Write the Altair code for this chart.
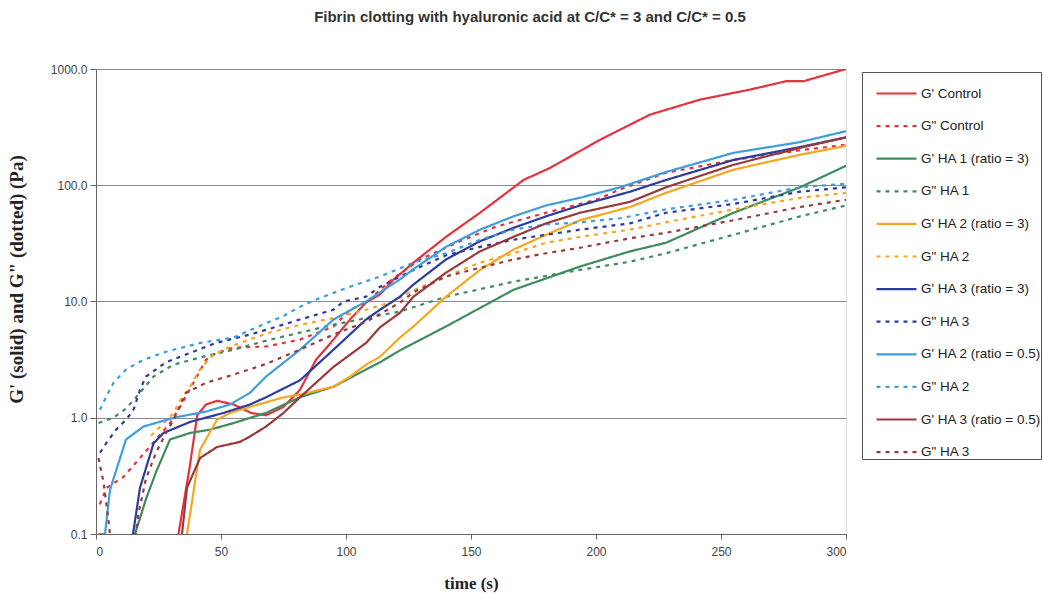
import altair as alt
import pandas as pd

title_text = "Fibrin clotting with hyaluronic acid at C/C* = 3 and C/C* = 0.5"

series_names = [
    "G' Control", 'G" Control',
    "G' HA 1 (ratio = 3)", 'G" HA 1',
    "G' HA 2 (ratio = 3)", 'G" HA 2',
    "G' HA 3 (ratio = 3)", 'G" HA 3',
    "G' HA 2 (ratio = 0.5)", 'G" HA 2 ',
    "G' HA 3 (ratio = 0.5)", 'G" HA 3 ',
]
series_colors = ["#E5323C", "#E5323C", "#3E8C5E", "#3E8C5E", "#F6A722", "#F6A722",
                 "#2C3C9E", "#2C3C9E", "#3D9EDD", "#3D9EDD", "#983A3C", "#983A3C"]
series_dash = [[1, 0], [4, 5]] * 6

# G' Control
t_g1 = [30, 33, 37.5, 40.5, 44, 48.5, 55, 62, 68, 75, 81.6, 88, 95, 101.6, 108, 113.6, 119, 127, 140, 153.6, 171, 181.6, 201.6, 221.6, 241.6, 261.6, 276, 283, 300]
v_g1 = [0.02, 0.1, 0.38, 1.05, 1.3, 1.4, 1.3, 1.1, 1.05, 1.24, 1.74, 3.15, 4.7, 7.0, 9.8, 11.5, 15.4, 21.6, 36, 58, 111, 141, 246, 405, 545, 665, 785, 785, 1000]
# G" Control
t_g2 = [1.5, 4.3, 11, 17.6, 24, 29.6, 33.6, 39, 44, 48, 55, 68, 75, 81.6, 95, 101.6, 108, 117.6, 129.6, 147, 160, 180, 200, 209.6, 228, 255, 281.6, 300]
v_g2 = [0.18, 0.25, 0.31, 0.45, 0.65, 0.9, 1.24, 2.0, 3.15, 3.6, 4.0, 4.1, 4.4, 4.7, 6.1, 8.5, 9.8, 15, 23, 34, 44, 58, 75, 92, 128, 165, 200, 223]
# G' HA 1 (ratio = 3)
t_g3 = [12, 15.6, 20, 24, 29.6, 37.6, 45.6, 55, 68, 81.6, 95, 108, 113.6, 121.6, 140, 167, 193.6, 213.6, 228, 255, 281.6, 300]
v_g3 = [0.03, 0.1, 0.2, 0.34, 0.65, 0.74, 0.79, 0.9, 1.1, 1.5, 1.85, 2.6, 3.0, 3.8, 6.1, 12.6, 20, 27, 32, 58, 96, 147]
# G" HA 1
t_g4 = [1, 7, 12, 17.6, 23, 31, 41.6, 55, 68, 81.6, 95, 108, 121.6, 140, 167, 193.6, 213.6, 228, 255, 281.6, 300]
v_g4 = [0.9, 1.0, 1.2, 1.64, 2.26, 2.86, 3.3, 3.85, 4.6, 5.4, 6.3, 7.2, 8.2, 11, 14.8, 18.7, 22, 26, 37.5, 54, 67]
# G' HA 2 (ratio = 3)
t_g5 = [33, 36.4, 41.6, 48.4, 53.6, 61.6, 75, 81.6, 95, 101.6, 108, 113.6, 121.6, 127, 140, 153.6, 167, 180, 193.6, 213.6, 228, 255, 281.6, 300]
v_g5 = [0.02, 0.1, 0.53, 0.96, 1.1, 1.24, 1.5, 1.58, 1.85, 2.26, 2.86, 3.35, 4.9, 6.1, 11, 18.7, 28, 37.5, 50, 65, 86, 136, 183, 218]
# G" HA 2
t_g6 = [22, 26, 31, 33.6, 37.6, 41.6, 47, 55, 68, 81.6, 95, 108, 119, 127, 140, 153.6, 167, 180, 193.6, 213.6, 228, 255, 281.6, 300]
v_g6 = [0.7, 0.85, 1.1, 1.4, 1.85, 2.6, 3.5, 4.2, 5.3, 6.3, 7.2, 8.5, 10, 12.5, 16.4, 21.6, 26, 32, 36, 41.5, 48, 62, 78, 86]
# G' HA 3 (ratio = 3)
t_g7 = [12, 14.8, 17.6, 23, 27, 37.6, 51, 61.6, 68, 81.6, 95, 108, 113.6, 121.6, 127, 140, 153.6, 167, 180, 193.6, 213.6, 228, 255, 281.6, 300]
v_g7 = [0.03, 0.1, 0.25, 0.6, 0.74, 0.92, 1.1, 1.3, 1.5, 2.1, 3.85, 7.0, 8.5, 11, 14, 23, 33, 43, 54, 67, 88, 111, 165, 213, 258]
# G" HA 3
t_g8 = [1.6, 4, 8, 12, 15, 17.6, 20, 28, 36, 48, 61.6, 68, 81.6, 95, 99, 108, 113.6, 127, 140, 153.6, 167, 180, 193.6, 213.6, 228, 255, 281.6, 300]
v_g8 = [0.5, 0.6, 0.79, 0.96, 1.17, 1.74, 2.26, 3.0, 3.5, 4.4, 5.2, 5.7, 7.0, 8.5, 10, 11, 13.4, 18.7, 25, 29.5, 34, 37.5, 41.5, 47, 58, 69, 88, 96]
# G' HA 2 (ratio = 0.5)
t_g9 = [1, 3.6, 5.6, 12, 19, 31, 44, 53.6, 61.6, 68, 81.6, 95, 108, 113.6, 121.6, 127, 140, 153.6, 167, 180, 193.6, 209.6, 228, 255, 281.6, 300]
v_g9 = [0.1, 0.1, 0.24, 0.65, 0.84, 1.0, 1.13, 1.3, 1.64, 2.26, 3.85, 7.0, 10.0, 12, 15.5, 19, 29.5, 41.5, 54, 67, 78, 96, 130, 190, 235, 292]
# G" HA 2 (ratio = 0.5)
t_g10 = [1.6, 4, 7, 12, 19, 28, 41.6, 55, 68, 75, 81.6, 88, 101.6, 113.6, 127, 140, 153.6, 167, 180, 193.6, 209.6, 228, 255, 281.6, 300]
v_g10 = [1.17, 1.5, 2.0, 2.6, 3.15, 3.7, 4.4, 4.9, 6.5, 7.5, 9.0, 10.4, 13.4, 16.4, 21.6, 26, 34, 41.5, 46, 48, 52, 62, 75, 96, 103]
# G' HA 3 (ratio = 0.5)
t_g11 = [32, 34.4, 36.4, 41.6, 48.4, 57.6, 61.6, 68, 75, 81.6, 95, 108, 113.6, 121.6, 127, 140, 153.6, 167, 180, 193.6, 213.6, 228, 255, 281.6, 300]
v_g11 = [0.02, 0.1, 0.25, 0.45, 0.56, 0.62, 0.69, 0.84, 1.1, 1.5, 2.74, 4.4, 6.0, 8.0, 11, 17.7, 27, 36, 47, 58, 72, 96, 150, 210, 258]
# G" HA 3 (ratio = 0.5)
t_g12 = [1, 3, 5, 7, 14, 17, 20, 24, 28, 31, 36, 44, 55, 68, 81.6, 95, 108, 113.6, 121.6, 127, 140, 153.6, 167, 180, 193.6, 213.6, 228, 255, 281.6, 300]
v_g12 = [0.45, 0.28, 0.13, 0.05, 0.05, 0.15, 0.3, 0.5, 0.74, 0.96, 1.64, 2.0, 2.35, 2.9, 3.85, 5.2, 6.7, 7.8, 9.8, 12, 16.4, 19.5, 23, 26, 29, 35, 39, 50, 65, 75]

all_t = [t_g1, t_g2, t_g3, t_g4, t_g5, t_g6, t_g7, t_g8, t_g9, t_g10, t_g11, t_g12]
all_v = [v_g1, v_g2, v_g3, v_g4, v_g5, v_g6, v_g7, v_g8, v_g9, v_g10, v_g11, v_g12]

x_ticks = [0, 50, 100, 150, 200, 250, 300]
y_ticks = [0.1, 1, 10, 100, 1000]

rows = []
for i, (name, ts, vs) in enumerate(zip(series_names, all_t, all_v)):
    for t, v in zip(ts, vs):
        rows.append({"series": name, "order": i, "t": t, "v": v})
df = pd.DataFrame(rows)

legend = alt.Legend(
    title=None, orient="none", legendX=766, legendY=3,
    symbolType="stroke", symbolSize=1600, symbolStrokeWidth=2.2,
    labelFont="Liberation Sans", labelFontSize=13.5, labelColor="#222",
    labelLimit=400, rowPadding=4.6, padding=0,
    strokeColor="#555", fillColor="white", symbolOffset=13, labelOffset=3,
)

chart = alt.Chart(df).mark_line(strokeWidth=2.2, clip=True).encode(
    x=alt.X("t:Q", scale=alt.Scale(domain=[0, 300], nice=False),
            axis=alt.Axis(values=x_ticks, title="time (s)", grid=False, format="d",
                          titleFont="Liberation Serif", titleFontSize=17, titleFontWeight="bold",
                          titleColor="#222", titlePadding=18,
                          labelFont="Liberation Sans", labelFontSize=12, labelColor="#444",
                          domainColor="#666", tickColor="#666", tickSize=5, labelPadding=7)),
    y=alt.Y("v:Q", scale=alt.Scale(type="log", domain=[0.1, 1000], nice=False),
            axis=alt.Axis(values=y_ticks, format=".1f", title="G' (solid) and G\" (dotted) (Pa)",
                          titleFont="Liberation Serif", titleFontSize=19, titleFontWeight="bold",
                          titleColor="#222", titlePadding=24, titleY=210,
                          labelFont="Liberation Sans", labelFontSize=12, labelColor="#444",
                          gridColor="#8a8a94", gridWidth=1.2, domainColor="#666",
                          tickColor="#666", tickSize=6, labelPadding=3)),
    color=alt.Color("series:N", scale=alt.Scale(domain=series_names, range=series_colors), legend=legend),
    strokeDash=alt.StrokeDash("series:N", scale=alt.Scale(domain=series_names, range=series_dash), legend=legend),
    detail="order:O",
    order="t:Q",
).properties(
    width=750, height=465,
    title=alt.TitleParams(title_text, font="Liberation Sans", fontSize=15, fontWeight="bold",
                          color="#333", anchor="middle", dx=59, offset=38),
    autosize=alt.AutoSizeParams(type="none"),
    padding={"left": 96, "top": 69, "right": 197, "bottom": 59},
).configure_view(stroke=None).configure(background="white")

chart.save("out.html", embed_options={"renderer": "svg", "actions": False})
